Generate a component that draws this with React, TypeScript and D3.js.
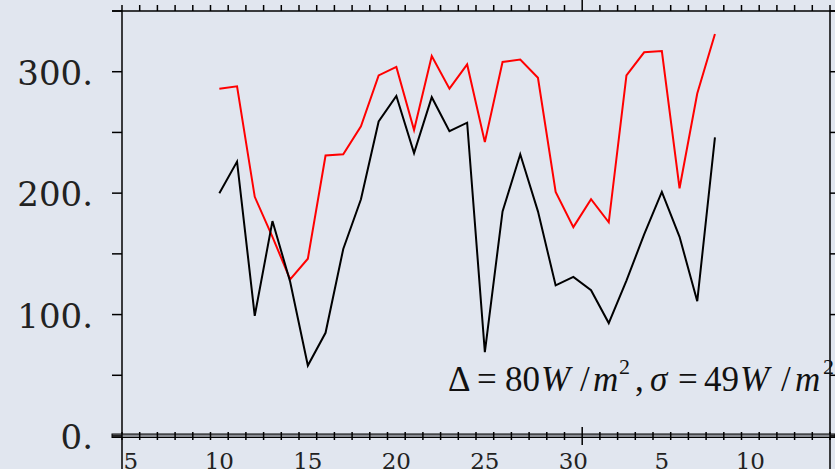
import React from "react";
import * as d3 from "d3";

const WIDTH = 835;
const HEIGHT = 469;
const MARGIN = { LEFT: 122, RIGHT: 5, TOP: 11, BOTTOM: 33 };
const BG = "#e1e6ef";

// days of the series (Sept 10 .. Oct 8)
const dayMonth = [
  9, 9, 9, 9, 9, 9, 9, 9, 9, 9, 9, 9, 9, 9, 9, 9, 9, 9, 9, 9, 9,
  10, 10, 10, 10, 10, 10, 10, 10,
];
const dayOfMonth = [
  10, 11, 12, 13, 14, 15, 16, 17, 18, 19, 20, 21, 22, 23, 24, 25, 26, 27, 28, 29, 30,
  1, 2, 3, 4, 5, 6, 7, 8,
];

// red series
const upperValues = [
  286, 288, 197, 164, 129, 146, 231, 232, 255, 297, 304, 252, 313, 286, 306,
  242, 308, 310, 295, 201, 172, 195, 176, 297, 316, 317, 204, 282, 331,
];
// black series
const lowerValues = [
  200, 226, 99, 177, 127, 58, 85, 154, 195, 259, 280, 233, 279, 251, 258,
  69, 185, 232, 185, 124, 131, 120, 93, 128, 166, 201, 164, 111, 246,
];

const yTicks = [0, 100, 200, 300];
const yTickLabels = ["0.", "100.", "200.", "300."];
const yMinorTicks = [0, 50, 100, 150, 200, 250, 300, 350];

const xTickLabels = ["5", "10", "15", "20", "25", "30", "5", "10"];
const xTickMonth = [9, 9, 9, 9, 9, 9, 10, 10];
const xTickDay = [5, 10, 15, 20, 25, 30, 5, 10];

const YEAR = 2001;
const utc = (m: number, d: number, h = 0) => new Date(Date.UTC(YEAR, m - 1, d, h));

export default function App() {
  const x = d3
    .scaleUtc()
    .domain([utc(9, 5), utc(10, 15)])
    .range([MARGIN.LEFT, WIDTH - MARGIN.RIGHT]);
  const y = d3
    .scaleLinear()
    .domain([0, 350])
    .range([HEIGHT - MARGIN.BOTTOM, MARGIN.TOP]);

  const pts = dayOfMonth.map((d, i) => utc(dayMonth[i], d, 12));
  const line = d3
    .line<number>()
    .x((_, i) => x(pts[i]))
    .y((v) => y(v));

  const dayTicks = d3.utcDay.range(utc(9, 5), utc(10, 15, 1));
  const monthEdge = utc(10, 1);

  const x0 = MARGIN.LEFT;
  const x1 = x(utc(10, 15));
  const yTop = y(350);
  const yBot = y(0);
  const axisColor = "#000";

  return (
    <svg
      width={WIDTH}
      height={HEIGHT}
      style={{ position: "absolute", left: 0, top: 0, background: BG }}
    >
      <rect width={WIDTH} height={HEIGHT} fill={BG} />

      {/* data lines */}
      <path d={line(upperValues) || ""} fill="none" stroke="#ff0000" strokeWidth={2} />
      <path d={line(lowerValues) || ""} fill="none" stroke="#000" strokeWidth={2} />

      {/* frame */}
      <line x1={x0 - 10} x2={WIDTH} y1={yTop} y2={yTop} stroke={axisColor} strokeWidth={1.5} />
      <line x1={x0} x2={x0} y1={yTop} y2={HEIGHT} stroke={axisColor} strokeWidth={1.5} />
      <line x1={x1} x2={x1} y1={yTop} y2={HEIGHT} stroke={axisColor} strokeWidth={1.5} />
      {/* bottom double axis */}
      <rect x={x0 - 10} y={yBot - 2} width={WIDTH - x0 + 10} height={3.5} fill="#8a8d93" stroke="#000" strokeWidth={1} />

      {/* y ticks */}
      {yMinorTicks.map((t) => (
        <g key={"y" + t}>
          <line x1={x0 - 10} x2={x0} y1={y(t)} y2={y(t)} stroke={axisColor} strokeWidth={1.5} />
          <line x1={x1} x2={x1 + 10} y1={y(t)} y2={y(t)} stroke={axisColor} strokeWidth={1.5} />
        </g>
      ))}
      {yTicks.map((t, i) => (
        <text
          key={"yl" + t}
          x={93}
          y={y(t) + 13}
          textAnchor="end"
          fontFamily="DejaVu Serif"
          fontSize={34}
          fill="#222"
        >
          {yTickLabels[i]}
        </text>
      ))}

      {/* x ticks */}
      {dayTicks.map((d) => {
        const long = +d === +monthEdge;
        const px = x(d);
        return (
          <g key={"x" + +d}>
            <line x1={px} x2={px} y1={yTop} y2={long ? 0 : yTop - 6} stroke={axisColor} strokeWidth={1.5} />
            <line
              x1={px}
              x2={px}
              y1={long ? yBot - 9 : yBot - 4}
              y2={long ? yBot + 9 : yBot + 4}
              stroke={axisColor}
              strokeWidth={1.5}
            />
          </g>
        );
      })}
      {xTickLabels.map((lab, i) => (
        <text
          key={"xl" + i}
          x={x(utc(xTickMonth[i], xTickDay[i], 12))}
          y={469}
          textAnchor="middle"
          fontFamily="DejaVu Serif"
          fontSize={23}
          fill="#222"
        >
          {lab}
        </text>
      ))}

      {/* annotation */}
      <text fontFamily="Liberation Serif" fontSize={35} fill="#111" y={391}>
        <tspan x={448}>Δ</tspan>
        <tspan x={477}>=</tspan>
        <tspan x={505}>80</tspan>
        <tspan x={541} fontStyle="italic">W</tspan>
        <tspan x={580}>/</tspan>
        <tspan x={593} fontStyle="italic">m</tspan>
        <tspan x={619} y={374} fontSize={22}>2</tspan>
        <tspan x={635} y={391}>,</tspan>
        <tspan x={650} fontStyle="italic">σ</tspan>
        <tspan x={678}>=</tspan>
        <tspan x={704}>49</tspan>
        <tspan x={740} fontStyle="italic">W</tspan>
        <tspan x={781}>/</tspan>
        <tspan x={795} fontStyle="italic">m</tspan>
        <tspan x={823} y={374} fontSize={22}>2</tspan>
      </text>
    </svg>
  );
}
